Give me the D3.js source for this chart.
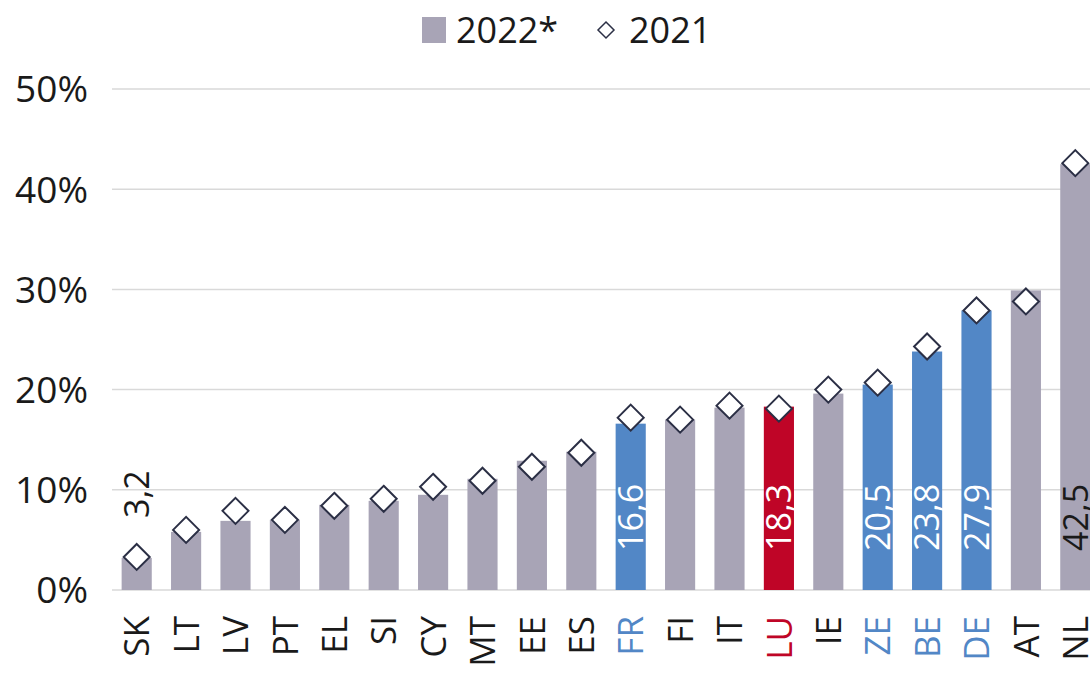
<!DOCTYPE html>
<html>
<head>
<meta charset="utf-8">
<script src="https://cdn.jsdelivr.net/npm/d3@7"></script>
<style>
  body { margin: 0; background: #fff; }
  text { font-family: "Open Sans", "Noto Sans", sans-serif; }
</style>
</head>
<body>
<div id="chart"></div>
<script>
// data
const countries = ["SK","LT","LV","PT","EL","SI","CY","MT","EE","ES","FR","FI","IT","LU","IE","ZE","BE","DE","AT","NL"];
const values2022 = [3.2, 5.8, 6.9, 7.0, 8.5, 8.9, 9.5, 11.1, 12.9, 13.8, 16.6, 17.0, 18.2, 18.3, 19.6, 20.5, 23.8, 27.9, 29.9, 42.5];
const values2021 = [3.3, 6.0, 7.9, 7.0, 8.4, 9.1, 10.3, 10.9, 12.3, 13.7, 17.2, 17.0, 18.4, 18.1, 20.0, 20.7, 24.3, 27.9, 28.8, 42.6];
const labels = {SK: "3,2", FR: "16,6", LU: "18,3", ZE: "20,5", BE: "23,8", DE: "27,9", NL: "42,5"};
const highlight = {FR: "blue", ZE: "blue", BE: "blue", DE: "blue", LU: "red"};
const yTicks = [0, 10, 20, 30, 40, 50];

const width = 1090;
const height = 674;
const colors = {gray: "#a8a4b6", blue: "#5287c6", red: "#bf0527"};

const svg = d3.select("#chart")
  .append("svg")
  .attr("width", width)
  .attr("height", height);

const x = d3.scaleBand()
  .domain(countries)
  .range([112, 1100])
  .paddingInner(0.39)
  .paddingOuter(0.195);

const y = d3.scaleLinear()
  .domain([0, 50])
  .range([590, 89]);

// gridlines + y labels
svg.append("g")
  .selectAll("line")
  .data(yTicks)
  .join("line")
    .attr("x1", 112)
    .attr("x2", width)
    .attr("y1", d => y(d))
    .attr("y2", d => y(d))
    .attr("stroke", "#d9d9d9")
    .attr("stroke-width", 1.5);

svg.append("g")
  .selectAll("text")
  .data(yTicks)
  .join("text")
    .attr("x", 88)
    .attr("y", d => y(d))
    .attr("dy", "0.36em")
    .attr("text-anchor", "end")
    .attr("font-size", 37)
    .attr("fill", "#1a1a1a")
    .text(d => d + "%");

const rows = countries.map((c, i) => ({c: c, v22: values2022[i], v21: values2021[i]}));

// bars
svg.append("g")
  .selectAll("rect")
  .data(rows)
  .join("rect")
    .attr("x", d => x(d.c))
    .attr("y", d => y(d.v22))
    .attr("width", x.bandwidth())
    .attr("height", d => y(0) - y(d.v22))
    .attr("fill", d => colors[highlight[d.c] || "gray"]);

// 2021 diamonds
const ds = 13;
svg.append("g")
  .selectAll("path")
  .data(rows)
  .join("path")
    .attr("transform", d => `translate(${x(d.c) + x.bandwidth() / 2},${y(d.v21)})`)
    .attr("d", `M0,${-ds}L${ds},0L0,${ds}L${-ds},0Z`)
    .attr("fill", "#fff")
    .attr("stroke", "#2b2f45")
    .attr("stroke-width", 2);

// value labels (rotated)
svg.append("g")
  .selectAll("text")
  .data(rows.filter(d => labels[d.c]))
  .join("text")
    .attr("transform", d => {
      const top = Math.min(y(d.v22), y(d.v21) - ds);
      const yy = (y(0) - top) < 80 ? top - 26 : 551;
      return `translate(${x(d.c) + x.bandwidth() / 2},${yy}) rotate(-90)`;
    })
    .attr("dy", "0.36em")
    .attr("font-size", 34)
    .attr("fill", d => highlight[d.c] ? "#fff" : "#1a1a1a")
    .text(d => labels[d.c]);

// category labels
svg.append("g")
  .selectAll("text")
  .data(countries)
  .join("text")
    .attr("transform", d => `translate(${x(d) + x.bandwidth() / 2},616) rotate(-90)`)
    .attr("dy", "0.36em")
    .attr("text-anchor", "end")
    .attr("font-size", 35)
    .attr("fill", d => highlight[d] ? colors[highlight[d]] : "#1a1a1a")
    .text(d => d);

// legend
const legend = svg.append("g");
legend.append("rect")
  .attr("x", 422).attr("y", 17)
  .attr("width", 24).attr("height", 26)
  .attr("fill", colors.gray);
legend.append("text")
  .attr("x", 456).attr("y", 30).attr("dy", "0.36em")
  .attr("font-size", 36).attr("fill", "#1a1a1a")
  .text("2022*");
legend.append("path")
  .attr("transform", "translate(606,30)")
  .attr("d", "M0,-8L8,0L0,8L-8,0Z")
  .attr("fill", "#fff")
  .attr("stroke", "#2b2f45")
  .attr("stroke-width", 1.5);
legend.append("text")
  .attr("x", 629).attr("y", 30).attr("dy", "0.36em")
  .attr("font-size", 36).attr("fill", "#1a1a1a")
  .text("2021");
</script>
</body>
</html>
